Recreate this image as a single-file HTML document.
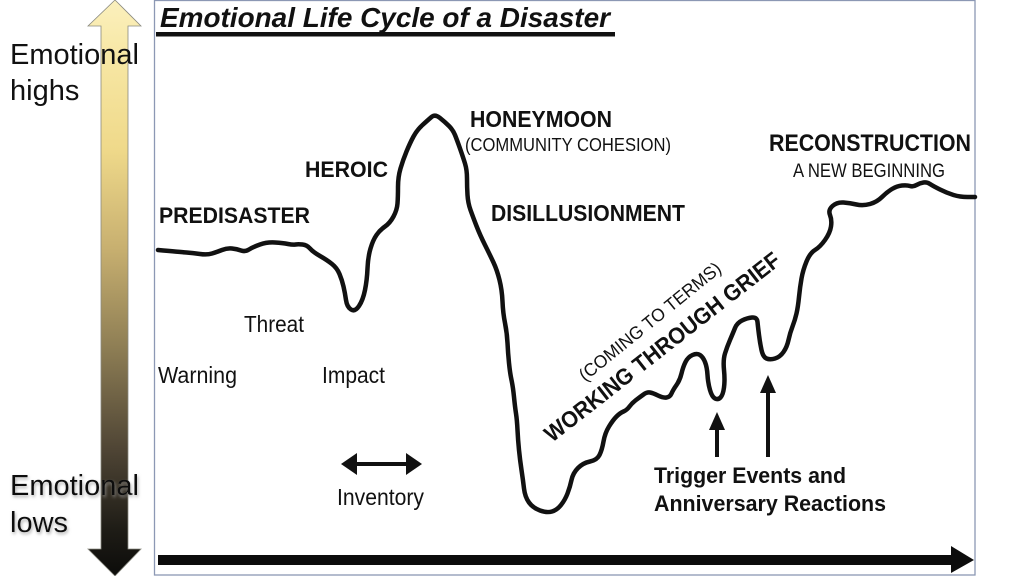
<!DOCTYPE html>
<html>
<head>
<meta charset="utf-8">
<style>
  html,body{margin:0;padding:0;background:#fff;}
  svg{display:block;}
  text{font-family:"Liberation Sans",Arial,sans-serif;fill:#111;}
  .b{font-weight:bold;}
</style>
</head>
<body>
<svg width="1024" height="576" viewBox="0 0 1024 576" xmlns="http://www.w3.org/2000/svg">
  <defs>
    <linearGradient id="g" x1="0" y1="0" x2="0" y2="1">
      <stop offset="0" stop-color="#fbf0bd"/>
      <stop offset="0.1" stop-color="#f7e7a4"/>
      <stop offset="0.26" stop-color="#efd98a"/>
      <stop offset="0.43" stop-color="#c8b070"/>
      <stop offset="0.6" stop-color="#8f7f55"/>
      <stop offset="0.78" stop-color="#4f4535"/>
      <stop offset="0.92" stop-color="#1e1c16"/>
      <stop offset="1" stop-color="#0c0c0a"/>
    </linearGradient>
    <filter id="sh" x="-20%" y="-40%" width="140%" height="180%">
      <feDropShadow dx="1" dy="2" stdDeviation="1.5" flood-color="#999" flood-opacity="0.8"/>
    </filter>
  </defs>

  <rect x="0" y="0" width="1024" height="576" fill="#fff"/>

  <!-- left gradient arrow -->
  <polygon points="115,0 141,26 128,26 128,549 141,549 115,576 88,549 101,549 101,26 88,26" fill="url(#g)" stroke="#8a8a80" stroke-width="0.8"/>

  <text x="10" y="64" style="font-size:29px">Emotional</text>
  <text x="10" y="100" style="font-size:29px">highs</text>
  <text x="10" y="495" style="font-size:29px" filter="url(#sh)">Emotional</text>
  <text x="10" y="532" style="font-size:29px" filter="url(#sh)">lows</text>

  <!-- frame -->
  <rect x="154.5" y="0.5" width="820.5" height="574.5" fill="none" stroke="#8c98b4" stroke-width="1.3"/>

  <!-- title -->
  <text x="160" y="27" class="b" style="font-size:28px;font-style:italic" textLength="450" lengthAdjust="spacingAndGlyphs">Emotional Life Cycle of a Disaster</text>
  <rect x="156" y="32" width="459" height="4.5" fill="#111"/>

  <!-- curve -->
  <polyline id="curve" fill="none" stroke="#111" stroke-width="4.5" stroke-linejoin="round" stroke-linecap="round"
    points="158,250 180,252 193,253 207,255 217,252 227,248 237,249 245,252 253,247 267,242 283,243 293,245 298,244 307,245 313,252 327,260 337,268 342,280 345,293 347,307 355,312 363,300 367,280 368,257 373,240 380,230 390,223 397,210 398,197 398,177 403,160 410,143 417,130 428,120 435,114 445,122 453,130 457,140 463,157 467,170 467,187 468,203 473,217 480,235 490,255 497,270 502,290 503,313 507,333 508,353 510,373 513,387 515,407 517,420 518,440 520,460 523,480 525,497 533,508 547,513 557,510 565,500 570,487 573,473 583,463 597,460 602,450 605,433 613,420 620,413 627,410 632,403 640,397 647,392 653,393 663,398 670,397 673,390 680,380 683,367 688,357 697,353 703,357 707,367 708,383 712,397 718,400 723,395 725,380 723,360 727,347 733,333 737,323 747,318 757,317 758,327 760,343 763,357 770,360 780,357 787,347 790,333 795,320 798,307 800,287 803,270 810,253 820,247 830,233 832,220 828,210 837,202 850,203 863,206 877,202 887,192 897,186 907,185 913,187 920,183 927,182 933,186 947,193 960,197 975,197"/>
  <path id="curveSmooth" fill="none" stroke="#111" stroke-width="4.5" stroke-linejoin="round" stroke-linecap="round" d=""/>

  <!-- bold labels -->
  <text x="159" y="223" class="b" style="font-size:22px" textLength="151" lengthAdjust="spacingAndGlyphs">PREDISASTER</text>
  <text x="305" y="177" class="b" style="font-size:22px" textLength="83" lengthAdjust="spacingAndGlyphs">HEROIC</text>
  <text x="470" y="127" class="b" style="font-size:23px" textLength="142" lengthAdjust="spacingAndGlyphs">HONEYMOON</text>
  <text x="465" y="151" style="font-size:18px" textLength="206" lengthAdjust="spacingAndGlyphs">(COMMUNITY COHESION)</text>
  <text x="491" y="221" class="b" style="font-size:23px" textLength="194" lengthAdjust="spacingAndGlyphs">DISILLUSIONMENT</text>
  <text x="769" y="151" class="b" style="font-size:24px" textLength="202" lengthAdjust="spacingAndGlyphs">RECONSTRUCTION</text>
  <text x="793" y="177" style="font-size:19px" textLength="152" lengthAdjust="spacingAndGlyphs">A NEW BEGINNING</text>

  <!-- rotated labels -->
  <text transform="translate(552,443) rotate(-38)" class="b" style="font-size:23px" textLength="292" lengthAdjust="spacingAndGlyphs">WORKING THROUGH GRIEF</text>
  <text transform="translate(585,382) rotate(-39)" style="font-size:18px" textLength="177" lengthAdjust="spacingAndGlyphs">(COMING TO TERMS)</text>

  <!-- small labels -->
  <text x="244" y="332" style="font-size:23px" textLength="60" lengthAdjust="spacingAndGlyphs">Threat</text>
  <text x="158" y="383" style="font-size:23px" textLength="79" lengthAdjust="spacingAndGlyphs">Warning</text>
  <text x="322" y="383" style="font-size:23px" textLength="63" lengthAdjust="spacingAndGlyphs">Impact</text>
  <text x="337" y="505" style="font-size:23px" textLength="87" lengthAdjust="spacingAndGlyphs">Inventory</text>

  <!-- inventory arrow -->
  <line x1="352" y1="464" x2="411" y2="464" stroke="#111" stroke-width="4"/>
  <polygon points="341,464 357,453 357,475" fill="#111"/>
  <polygon points="422,464 406,453 406,475" fill="#111"/>

  <!-- trigger arrows -->
  <polygon points="717,412 709,430 725,430" fill="#111"/>
  <line x1="717" y1="428" x2="717" y2="457" stroke="#111" stroke-width="4"/>
  <polygon points="768,375 760,393 776,393" fill="#111"/>
  <line x1="768" y1="390" x2="768" y2="457" stroke="#111" stroke-width="4"/>

  <text x="654" y="483" class="b" style="font-size:22px" textLength="192" lengthAdjust="spacingAndGlyphs">Trigger Events and</text>
  <text x="654" y="511" class="b" style="font-size:22px" textLength="232" lengthAdjust="spacingAndGlyphs">Anniversary Reactions</text>

  <!-- bottom time arrow -->
  <rect x="158" y="555" width="795" height="10" fill="#0c0c0c"/>
  <polygon points="951,546 974,560 951,573" fill="#0c0c0c"/>
</svg>
<script>
(function(){
  try{
    var pl=document.getElementById('curve');
    var pts=pl.getAttribute('points').trim().split(/\s+/).map(function(s){var a=s.split(',');return [parseFloat(a[0]),parseFloat(a[1])];});
    var d='M'+pts[0][0]+','+pts[0][1];
    for(var i=1;i<pts.length-1;i++){
      var mx=(pts[i][0]+pts[i+1][0])/2, my=(pts[i][1]+pts[i+1][1])/2;
      d+=' Q'+pts[i][0]+','+pts[i][1]+' '+mx+','+my;
    }
    var l=pts[pts.length-1];
    d+=' L'+l[0]+','+l[1];
    document.getElementById('curveSmooth').setAttribute('d',d);
    pl.setAttribute('stroke','none');
  }catch(e){}
})();
</script>
</body>
</html>
